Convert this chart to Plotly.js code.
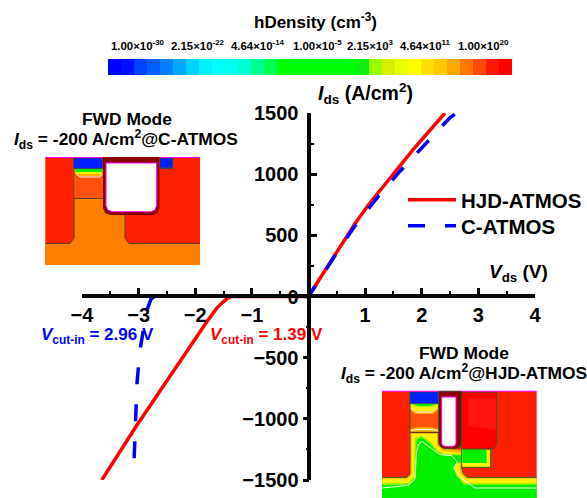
<!DOCTYPE html>
<html>
<head>
<meta charset="utf-8">
<script src="https://cdn.plot.ly/plotly-3.0.1.min.js"></script>
<style>html,body{margin:0;padding:0;background:#fff;overflow:hidden}</style>
</head>
<body>
<div id="chart" style="width:587px;height:498px"></div>
<script>
// ---- data ----
const hjdV = [-3.65,-3.06,-1.79,-1.62,-1.5,-1.42,-1.36,-1.2,-0.6,0,0.17,0.5,0.82,1.06,1.5,1.85,2.41];
const hjdI = [-1500,-1073,-203,-95,-41,-12,0,0,0,0,125,365,595,750,996,1202,1500];
const catNegV = [-2.72,-2.78,-2.86,-2.93,-2.98,-3.03,-3.06,-3.085];
const catNegI = [0,-20,-120,-300,-448,-717,-1073,-1400];
const catPosV = [-0.08,0,0.17,0.5,0.84,1.233,1.617,2.06,2.5,2.62];
const catPosI = [0,0,120,358,590,818,1024,1243,1463,1500];
const cbarColors = ['#0000ff','#0010ff','#0040ff','#0060ff','#0080ff','#00a8ff','#00d0ff','#00f0ff','#00ffff','#00fff0','#00ffd0','#00ff90','#00ff50','#00ff00','#00ff00','#00ff00','#00ff00','#00ff00','#00ff00','#10f010','#99ff00','#d4f000','#e8ff00','#ffff00','#ffe000','#ffc800','#ffa800','#ff7800','#ff4800','#ff1800','#ff0000'];
const cbarLabels = ['1.00×10<sup>-30</sup>','2.15×10<sup>-22</sup>','4.64×10<sup>-14</sup>','1.00×10<sup>-5</sup>','2.15×10<sup>3</sup>','4.64×10<sup>11</sup>','1.00×10<sup>20</sup>'];
const cbarLabelX = [138,198,258,317,370,425,483];
const xTicks = [-4,-3,-2,-1,1,2,3,4];
const xTickText = ['−4','−3','−2','−1','1','2','3','4'];
const xMinor = [-3.5,-2.5,-1.5,-0.5,0.5,1.5,2.5,3.5];
const yPosTicks = [0,500,1000,1500];
const yNegTicks = [-500,-1000,-1500];
const yNegText = ['−500','−1000','−1500'];
const yPosMinor = [250,750,1250];
const yNegMinor = [-250,-750,-1250];

// ---- page pixel helpers (for the two TCAD inset illustrations and text) ----
const W = 587, H = 498, FONT = 'Liberation Sans, Arial, sans-serif';
const fx = x => x / W, fy = y => 1 - y / H;
const poly = (pts, fill, line, lw) => ({type:'path', xref:'paper', yref:'paper', layer:'above',
  path:'M' + pts.map(p => fx(p[0]) + ',' + fy(p[1])).join('L') + 'Z',
  fillcolor:fill, line:{color:line||fill, width:lw===undefined?0:lw}});
const curve = (pts, col, lw) => ({type:'path', xref:'paper', yref:'paper', layer:'above',
  path:'M' + pts.map(p => fx(p[0]) + ',' + fy(p[1])).join('L'), fillcolor:'rgba(0,0,0,0)', line:{color:col, width:lw||1}});
const rect = (x0,y0,x1,y1,fill,line,lw) => poly([[x0,y0],[x1,y0],[x1,y1],[x0,y1]],fill,line,lw);
const rbox = (x0,y0,x1,y1,r,fill,line,lw) => poly([[x0,y0],[x1,y0],[x1,y1-r],[x1-r*0.3,y1-r*0.3],[x1-r,y1],[x0+r,y1],[x0+r*0.3,y1-r*0.3],[x0,y1-r]],fill,line,lw);

const RED='#ff2000', ORG='#ff8000', ROR='#ff5010', DRK='#8b0000', MAG='#ff00ff', BLU='#0020ff', GRN='#00f000', LIME='#a0f000', YEL='#fff000', AMB='#ffb000', WIRE='#306020';

const inset1 = [
  rect(45.3,157,200,265,RED),
  poly([[45.3,243.5],[70,243.5],[74,238],[74,198.5],[125,198.5],[125,238],[129,243.5],[200,243.5],[200,265],[45.3,265]],ORG),
  curve([[45.3,243.5],[70,243.5],[74,238],[74,198.5],[103,198.5]],'#604010',1),
  curve([[125,215],[125,238],[129,243.5],[200,243.5]],'#604010',1),
  rect(74,170,103,198,ROR),
  poly([[74,169],[103,169],[101,176],[78,176]],AMB),
  poly([[74,169],[103,169],[102,174],[76,174]],YEL),
  poly([[74,169],[103,169],[102,172],[76,172]],GRN),
  curve([[76,174],[80,177],[100,177],[102,174]],'#ffffff',1),
  rect(73.7,158,102.5,168.6,BLU,'#206030',0.6),
  rect(160,158,172.7,168.6,BLU,'#206030',0.6),
  rect(45.3,157,200,158,MAG),
  rbox(103,157,159.5,215,7,DRK),
  rbox(106,163,156.7,211.7,6,'#ffffff',MAG,1),
  curve([[73.7,168],[73.7,238]],'#605020',0.8),
  curve([[159.5,168],[172.7,168]],'#605020',0.8)
];
const ix = z => 380 + z/3, iy = z => 388 + z/3;
const zp = pts => pts.map(p => [ix(p[0]), iy(p[1])]);
const zr = (a,b,c,d,f,l,w) => rect(ix(a),iy(b),ix(c),iy(d),f,l,w);
const inset2 = [
  zr(6,10,470,330,RED),
  poly(zp([[6,268],[80,268],[90,258],[90,133],[176,133],[176,170],[190,182],[244,185],[244,228],[246,250],[262,268],[470,268],[470,330],[6,330]]),AMB),
  poly(zp([[6,272],[82,272],[95,260],[95,138],[171,138],[171,170],[186,188],[242,194],[242,222],[238,235],[242,255],[258,272],[470,272],[470,330],[6,330]]),YEL),
  poly(zp([[6,285],[85,285],[102,265],[104,150],[125,143],[150,160],[172,185],[190,198],[245,198],[245,225],[232,228],[225,240],[232,258],[255,285],[470,285],[470,330],[6,330]]),LIME),
  poly(zp([[6,290],[88,290],[108,268],[110,155],[125,148],[148,165],[170,190],[190,202],[245,202],[245,222],[228,226],[220,240],[228,262],[252,290],[470,290],[470,330],[6,330]]),GRN),
  curve(zp([[6,300],[85,292],[104,275],[110,190],[116,168],[126,160],[150,178],[180,200],[215,203],[232,222],[222,240],[240,268],[285,300],[470,300]]),'#e8ffe8',1),
  zr(90,47,175,133,ROR),
  poly(zp([[90,47],[175,47],[175,65],[160,78],[105,78],[90,65]]),AMB),
  poly(zp([[90,47],[175,47],[170,62],[150,70],[115,70],[95,62]]),YEL),
  poly(zp([[92,47],[173,47],[160,58],[105,58]]),LIME),
  poly(zp([[100,47],[165,47],[150,54],[115,54]]),GRN),
  curve(zp([[92,60],[110,72],[155,72],[172,60]]),'#ffffff',1),
  poly(zp([[90,133],[175,133],[175,122],[150,118],[115,118],[90,122]]),AMB),
  curve(zp([[90,128],[115,124],[150,124],[175,128]]),'#ffffff',1),
  curve(zp([[90,12],[90,258],[80,268],[6,268]]),WIRE,1),
  curve(zp([[90,133],[176,133]]),'#403010',1),
  zr(245,183,332,238,YEL,WIRE,1),
  zr(247,186,320,225,GRN),
  curve(zp([[245,238],[250,258],[262,268],[470,268]]),WIRE,1),
  poly(zp([[245,12],[350,12],[350,170],[338,183],[245,183]]),'#ff0000',WIRE,1),
  poly(zp([[265,30],[348,30],[348,125],[265,115]]),'#ff1410'),
  zr(90,12,175,47,BLU,'#206030',0.6),
  zr(6,8,470,11,MAG),
  rbox(ix(176),iy(10),ix(245),iy(182),6,DRK,WIRE,0.8),
  rbox(ix(185),iy(27),ix(228),iy(175),3,'#ffffff',MAG,1)
];

// ---- text ----
const bold = (t) => '<b>' + t + '</b>';
const note = (text,x,y,size,color,anchor) => ({text:text, xref:'paper', yref:'paper', x:fx(x), y:fy(y),
  xanchor:anchor||'center', yanchor:'middle', showarrow:false, font:{family:FONT,size:size,color:color||'#000'}});
const annotations = [
  note(bold('hDensity (cm<sup>-3</sup>)'),315,21,17),
  ...cbarLabels.map((t,i) => note(bold(t),cbarLabelX[i],45,11.4)),
  note(bold('<i>I</i><sub>ds</sub> (A/cm<sup>2</sup>)'),365,93,19.5),
  note(bold('<i>V</i><sub>ds</sub> (V)'),518,273,19),
  note(bold('FWD Mode'),127,119,17.4),
  note(bold('<i>I</i><sub>ds</sub> = -200 A/cm<sup>2</sup>@C-ATMOS'),126,140,17.4),
  note(bold('FWD Mode'),464,353,17.4),
  note(bold('<i>I</i><sub>ds</sub> = -200 A/cm<sup>2</sup>@HJD-ATMOS'),464,373,17.4),
  note(bold('<i>V</i><sub>cut-in</sub> = 2.96 V'),39,336,17,'#0000ff','left'),
  note(bold('<i>V</i><sub>cut-in</sub> = 1.39 V'),208,336,17,'#ff0000','left')
];

// ---- traces ----
const traces = [
  {type:'bar', x:cbarColors.map((c,i)=>i), y:cbarColors.map(()=>1), xaxis:'x2', yaxis:'y2',
   marker:{color:cbarColors, line:{width:0}}, showlegend:false, hoverinfo:'skip'},
  {type:'scatter', mode:'lines', x:[], y:[], xaxis:'x', yaxis:'y3', showlegend:false, hoverinfo:'skip'},
  {type:'scatter', mode:'lines', name:'HJD-ATMOS', x:hjdV, y:hjdI, legend:'legend',
   line:{color:'#ff0000', width:3.5}},
  {type:'scatter', mode:'lines', name:'C-ATMOS', x:catNegV, y:catNegI, showlegend:false,
   line:{color:'#0000ff', width:3.5, dash:'17px,20px'}},
  {type:'scatter', mode:'lines', name:'C-ATMOS', x:catPosV, y:catPosI, legend:'legend2',
   line:{color:'#0000ff', width:3.5, dash:'17px,20px'}}
];

const tickFont = {family:FONT, size:20, color:'#000', weight:700};
const legendFont = {family:FONT,size:20.5,color:'#000',weight:700};
const xPos = fy(295.5), yPos = fx(308.5);
const layout = {
  width:W, height:H, margin:{l:0,r:0,t:0,b:0}, paper_bgcolor:'#fff', plot_bgcolor:'rgba(0,0,0,0)',
  bargap:0, annotations:annotations, shapes:[...inset1,...inset2],
  legend:{x:fx(403), y:fy(180), xanchor:'left', yanchor:'top', bgcolor:'rgba(0,0,0,0)', itemwidth:48, font:legendFont},
  legend2:{x:fx(403), y:fy(206), xanchor:'left', yanchor:'top', bgcolor:'rgba(0,0,0,0)', itemwidth:48, font:legendFont},
  xaxis:{domain:[fx(82),fx(535)], range:[-4,4], anchor:'free', position:xPos, side:'bottom',
         showgrid:false, zeroline:false, showline:true, linecolor:'#000', linewidth:4,
         ticks:'inside', ticklen:6, tickwidth:3, tickcolor:'#000', tickmode:'array', tickvals:xTicks, ticktext:xTickText,
         tickfont:tickFont, minor:{ticks:'inside', ticklen:3, tickwidth:2, tickcolor:'#000', tickmode:'array', tickvals:xMinor}},
  yaxis:{domain:[fy(480),fy(113)], range:[-1500,1500], anchor:'free', position:yPos, side:'left',
         showgrid:false, zeroline:false, showline:true, linecolor:'#000', linewidth:4,
         ticks:'inside', ticklen:6, tickwidth:3, tickcolor:'#000', tickmode:'array', tickvals:yPosTicks,
         tickfont:tickFont, ticklabelstandoff:4,
         minor:{ticks:'inside', ticklen:3, tickwidth:2, tickcolor:'#000', tickmode:'array', tickvals:yPosMinor}},
  yaxis3:{domain:[fy(480),fy(113)], range:[-1500,1500], overlaying:'y', anchor:'free', position:yPos, side:'left',
         showgrid:false, zeroline:false, showline:false,
         ticks:'outside', ticklen:6, tickwidth:3, tickcolor:'#000', tickmode:'array', tickvals:yNegTicks, ticktext:yNegText,
         tickfont:tickFont, minor:{ticks:'outside', ticklen:3, tickwidth:2, tickcolor:'#000', tickmode:'array', tickvals:yNegMinor}},
  xaxis2:{domain:[fx(108),fx(512)], range:[-0.5,cbarColors.length-0.5], anchor:'y2', visible:false, fixedrange:true},
  yaxis2:{domain:[fy(75),fy(59)], range:[0,1], anchor:'x2', visible:false, fixedrange:true}
};
Plotly.newPlot('chart', traces, layout, {displayModeBar:false, staticPlot:true});
</script>
</body>
</html>
